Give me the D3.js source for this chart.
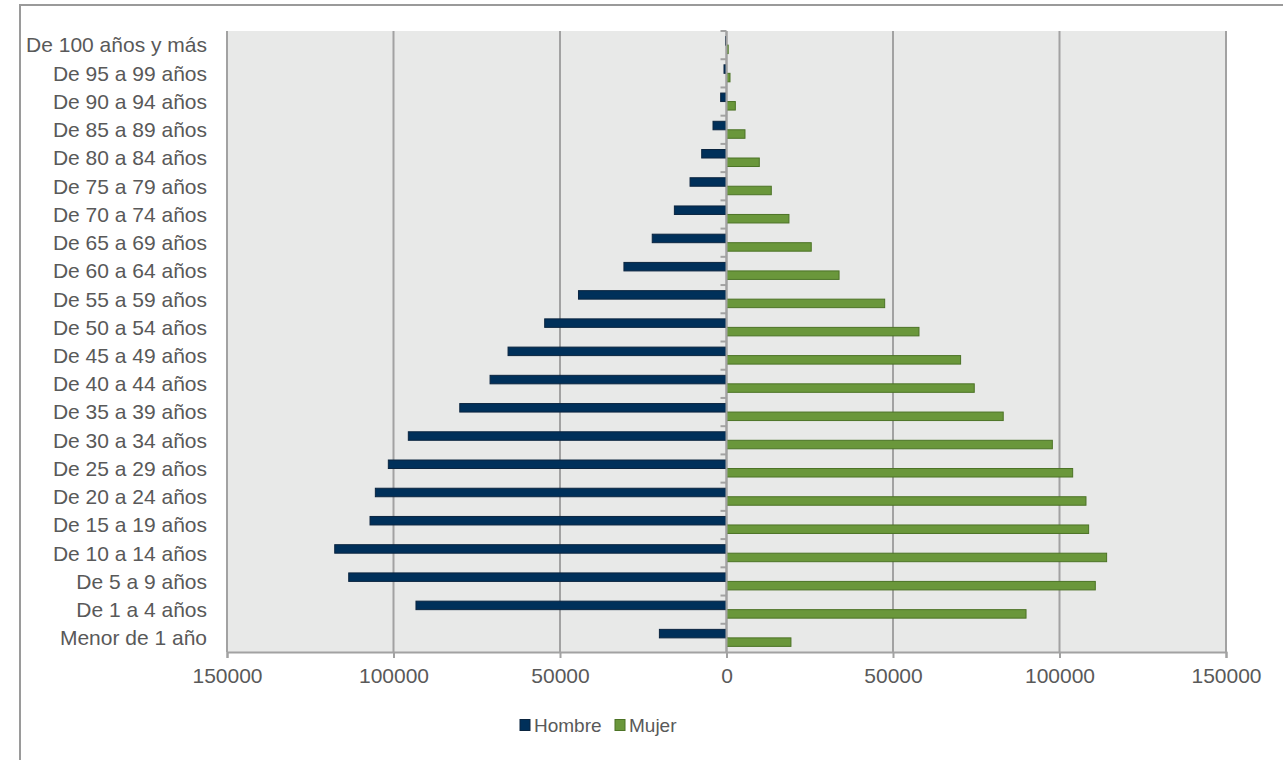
<!DOCTYPE html>
<html lang="es">
<head>
<meta charset="UTF-8">
<title>Pirámide de población</title>
<script src="https://d3js.org/d3.v7.min.js"></script>
<style>
  body { margin: 0; background: #fff; }
  text { font-family: "Liberation Sans", Arial, sans-serif; fill: #595959; }
</style>
</head>
<body>
<svg id="chart" width="1283" height="760"></svg>
<script>
// categorías de arriba abajo
var grupos = ["De 100 años y más", "De 95 a 99 años", "De 90 a 94 años", "De 85 a 89 años",
  "De 80 a 84 años", "De 75 a 79 años", "De 70 a 74 años", "De 65 a 69 años",
  "De 60 a 64 años", "De 55 a 59 años", "De 50 a 54 años", "De 45 a 49 años",
  "De 40 a 44 años", "De 35 a 39 años", "De 30 a 34 años", "De 25 a 29 años",
  "De 20 a 24 años", "De 15 a 19 años", "De 10 a 14 años", "De 5 a 9 años",
  "De 1 a 4 años", "Menor de 1 año"];
var hombre = [300, 750, 1750, 4050, 7450, 10950, 15650, 22300, 30800, 44450, 54600,
  65600, 71000, 80100, 95550, 101550, 105450, 107050, 117650, 113450, 93250, 20150];
var mujer = [500, 1050, 2650, 5550, 9850, 13450, 18750, 25450, 33800, 47500, 57800,
  70300, 74400, 83100, 97850, 103950, 107950, 108750, 114150, 110750, 89950, 19350];
var series = ["Hombre", "Mujer"];
var ticks = [-150000, -100000, -50000, 0, 50000, 100000, 150000];

var colores = { Hombre: "#00305a", Mujer: "#6a973b" };
var bordes = { Hombre: "#0b2540", Mujer: "#4c7326" };

function draw() {
  var svg = d3.select("#chart");
  var pl = 227, pr = 1226, pt = 31, pb = 652;

  // marco exterior
  svg.append("rect").attr("x", 20).attr("y", 5).attr("width", 1300).attr("height", 800)
    .attr("fill", "none").attr("stroke", "#9a9a9a").attr("stroke-width", 2);

  var x = d3.scaleLinear().domain([-150000, 150000]).range([pl, pr]);
  var y = d3.scaleBand().domain(grupos).range([pt, pb]).padding(0);
  var y1 = d3.scaleBand().domain(series).range([5.6, 22.6]);

  svg.append("rect").attr("x", pl).attr("y", pt).attr("width", pr - pl)
    .attr("height", pb - pt).attr("fill", "#e8e9e8");

  // cuadrícula
  svg.append("g").selectAll("line").data(ticks).enter().append("line")
    .attr("x1", function (d) { return x(d); }).attr("x2", function (d) { return x(d); })
    .attr("y1", pt).attr("y2", pb)
    .attr("stroke", "#a2a2a2").attr("stroke-width", 2);

  // barras
  var filas = svg.append("g").selectAll("g").data(grupos).enter().append("g")
    .attr("transform", function (d) { return "translate(0," + y(d) + ")"; });
  filas.append("rect")
    .attr("x", function (d, i) { return x(-hombre[i]); })
    .attr("width", function (d, i) { return x(0) - x(-hombre[i]); })
    .attr("y", y1("Hombre")).attr("height", y1.bandwidth())
    .attr("fill", colores.Hombre).attr("stroke", bordes.Hombre).attr("stroke-width", 1);
  filas.append("rect")
    .attr("x", x(0))
    .attr("width", function (d, i) { return x(mujer[i]) - x(0); })
    .attr("y", y1("Mujer")).attr("height", y1.bandwidth())
    .attr("fill", colores.Mujer).attr("stroke", bordes.Mujer).attr("stroke-width", 1);

  // eje x
  var ejeX = svg.append("g").attr("transform", "translate(0," + pb + ")")
    .call(d3.axisBottom(x).tickValues(ticks).tickSize(6).tickPadding(10)
      .tickFormat(function (d) { return Math.abs(d); }));
  ejeX.select(".domain").attr("stroke", "#a2a2a2").attr("stroke-width", 2);
  ejeX.selectAll(".tick line").attr("stroke", "#a2a2a2").attr("stroke-width", 2);
  ejeX.selectAll("text").attr("font-size", 21).attr("fill", "#595959")
    .style("font-family", "Liberation Sans, Arial, sans-serif");

  // eje de categorías en el cero
  var x0 = x(0);
  svg.append("line").attr("x1", x0).attr("x2", x0).attr("y1", pt).attr("y2", pb)
    .attr("stroke", "#a2a2a2").attr("stroke-width", 2);
  svg.append("g").selectAll("line").data(grupos).enter().append("line")
    .attr("x1", x0 - 6).attr("x2", x0)
    .attr("y1", function (d) { return y(d); }).attr("y2", function (d) { return y(d); })
    .attr("stroke", "#a2a2a2").attr("stroke-width", 2);

  // etiquetas de categoría
  svg.append("g").selectAll("text").data(grupos).enter().append("text")
    .attr("transform", function (d) { return "translate(207," + (y(d) + y.bandwidth() / 2) + ")"; })
    .attr("text-anchor", "end").attr("dy", "0.35em").attr("font-size", 21)
    .text(function (d) { return d; });

  // leyenda
  var ley = svg.append("g").attr("transform", "translate(520,725)");
  var items = ley.selectAll("g").data(series).enter().append("g")
    .attr("transform", function (d, i) { return "translate(" + (i * 95) + ",0)"; });
  items.append("rect").attr("x", 0).attr("y", -5.5).attr("width", 10).attr("height", 11)
    .attr("fill", function (d) { return colores[d]; })
    .attr("stroke", function (d) { return bordes[d]; });
  items.append("text").attr("x", 14).attr("dy", "0.35em").attr("font-size", 19)
    .text(function (d) { return d; });
}
draw();
</script>
</body>
</html>
